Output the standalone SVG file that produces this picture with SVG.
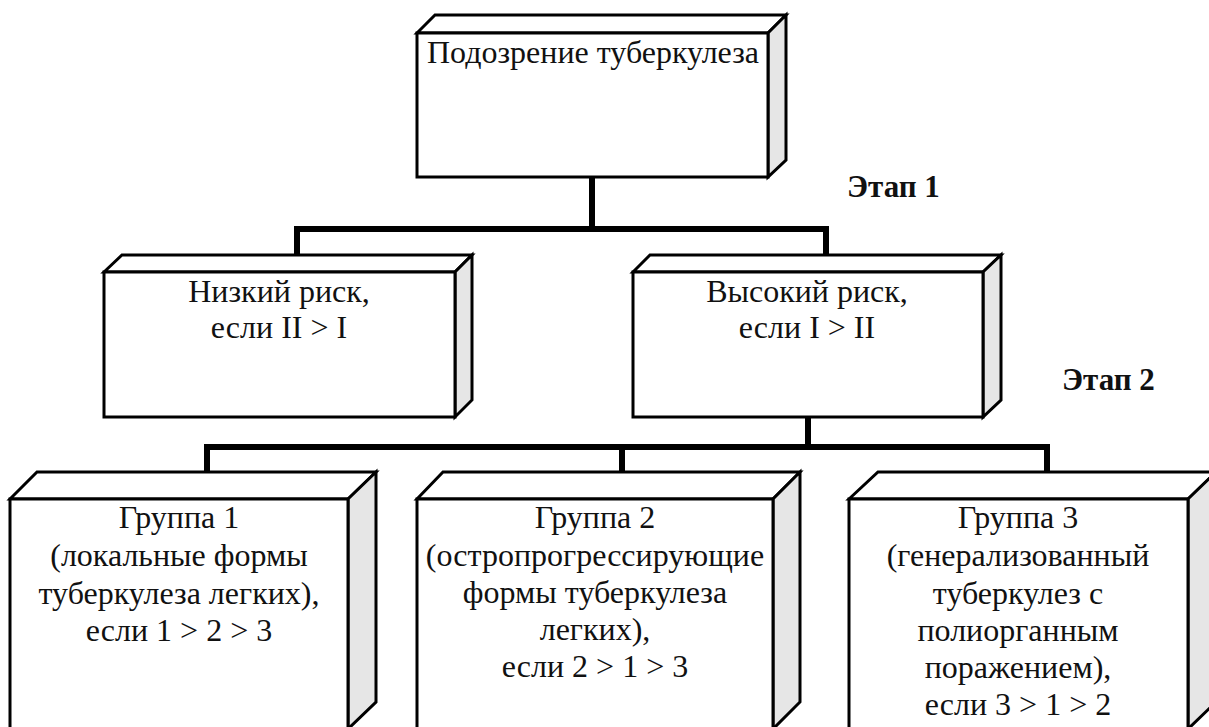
<svg xmlns="http://www.w3.org/2000/svg" width="1209" height="727" viewBox="0 0 1209 727">
<style>
.face{fill:#ffffff;stroke:#000;stroke-width:3;stroke-linejoin:miter}
.side{fill:#e6e6e6;stroke:#000;stroke-width:3;stroke-linejoin:miter}
.t{font-family:'Liberation Serif','DejaVu Serif',serif;font-size:32px;fill:#111;text-anchor:middle}
.lbl{font-family:'Liberation Serif','DejaVu Serif',serif;font-size:31px;font-weight:bold;fill:#111}
.conn{fill:none;stroke:#000;stroke-width:6;stroke-linejoin:miter;stroke-linecap:butt}
</style>
<rect width="1209" height="727" fill="#fff"/>
<g id="connectors">
<path class="conn" d="M592 177 V229 M297 255 V229 H826 V255"/>
<path class="conn" d="M808 417 V447 M207 472 V447 H1047 V472 M622 447 V472"/>
</g>
<g id="node-top">
<polygon class="face" points="417,33 435,15 786,15 768,33"/>
<polygon class="side" points="768,33 786,15 786,160 768,177"/>
<rect class="face" x="417" y="33" width="351" height="144"/>
<text class="t" x="593" y="63">Подозрение туберкулеза</text>
</g>
<g id="node-low">
<polygon class="face" points="104,272 122,255 472,255 455,272"/>
<polygon class="side" points="455,272 472,255 472,400 455,417"/>
<rect class="face" x="104" y="272" width="351" height="145"/>
<text class="t" x="279" y="302">Низкий риск,</text>
<text class="t" x="279" y="338">если II &gt; I</text>
</g>
<g id="node-high">
<polygon class="face" points="633,272 650,255 1001,255 983,272"/>
<polygon class="side" points="983,272 1001,255 1001,400 983,417"/>
<rect class="face" x="633" y="272" width="350" height="145"/>
<text class="t" x="807" y="302">Высокий риск,</text>
<text class="t" x="807" y="338">если I &gt; II</text>
</g>
<g id="node-g1">
<polygon class="face" points="10,499 37,472 376,472 348,499"/>
<polygon class="side" points="348,499 376,472 376,702 348,729"/>
<rect class="face" x="10" y="499" width="338" height="230"/>
<text class="t" x="179" y="528">Группа 1</text>
<text class="t" x="179" y="566">(локальные формы</text>
<text class="t" x="179" y="604">туберкулеза легких),</text>
<text class="t" x="179" y="641">если 1 &gt; 2 &gt; 3</text>
</g>
<g id="node-g2">
<polygon class="face" points="417,499 443,472 800,472 773,499"/>
<polygon class="side" points="773,499 800,472 800,702 773,729"/>
<rect class="face" x="417" y="499" width="356" height="230"/>
<text class="t" x="595" y="528">Группа 2</text>
<text class="t" x="595" y="566">(остропрогрессирующие</text>
<text class="t" x="595" y="603">формы туберкулеза</text>
<text class="t" x="595" y="640">легких),</text>
<text class="t" x="595" y="677">если 2 &gt; 1 &gt; 3</text>
</g>
<g id="node-g3">
<polygon class="face" points="849,499 878,472 1216,472 1188,499"/>
<polygon class="side" points="1188,499 1216,472 1216,702 1188,729"/>
<rect class="face" x="849" y="499" width="339" height="230"/>
<text class="t" x="1018" y="528">Группа 3</text>
<text class="t" x="1018" y="566">(генерализованный</text>
<text class="t" x="1018" y="604">туберкулез с</text>
<text class="t" x="1018" y="641">полиорганным</text>
<text class="t" x="1018" y="678">поражением),</text>
<text class="t" x="1018" y="715">если 3 &gt; 1 &gt; 2</text>
</g>
<text class="lbl" x="847" y="197">Этап 1</text>
<text class="lbl" x="1062" y="390">Этап 2</text>
</svg>
